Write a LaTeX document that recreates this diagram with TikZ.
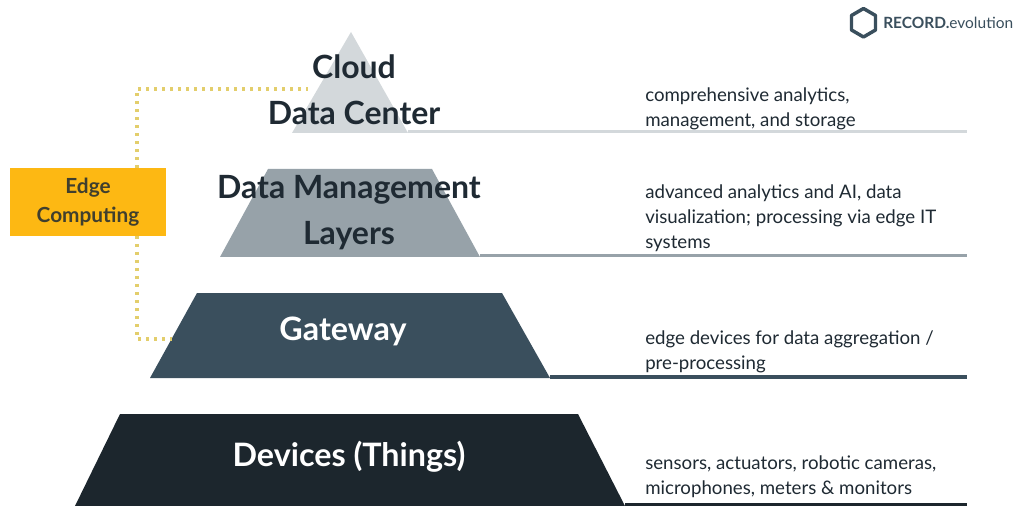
\documentclass[tikz,border=0pt]{standalone}
\usepackage{fontspec}
\setmainfont{Lato}
\definecolor{cloudc}{HTML}{D3D8DB}
\definecolor{mgmtc}{HTML}{97A2A9}
\definecolor{gatec}{HTML}{3A4F5D}
\definecolor{devc}{HTML}{1C262D}
\definecolor{edgec}{HTML}{FDB813}
\definecolor{dotc}{HTML}{E3CE6C}
\definecolor{inkc}{HTML}{1F2A33}
\tikzset{
  tier/.style={inner sep=0pt,align=center,font=\fontsize{24}{34.5}\selectfont\bfseries\color{inkc}},
  tierw/.style={tier,text=white,font=\fontsize{24.2}{30}\selectfont\bfseries},
  desc/.style={inner sep=0pt,anchor=west,align=left,text=inkc,font=\fontsize{14}{18.6}\selectfont},
  dotline/.style={dotc,line width=2.6pt,dash pattern=on 2.4pt off 3.6pt},
  rule/.style={line width=2.6pt}
}
\begin{document}
\begin{tikzpicture}[x=0.75pt,y=-0.75pt]
\useasboundingbox (0,0) rectangle (1018,506);
\fill[white] (0,0) rectangle (1018,506);
% connector anchors
\coordinate (cl0) at (408,131.5); \coordinate (cl1) at (967,131.5);
\coordinate (dm0) at (480,255.5); \coordinate (dm1) at (967,255.5);
\coordinate (gw0) at (550,377); \coordinate (gw1) at (967,377);
\coordinate (dv0) at (625,505); \coordinate (dv1) at (967,505);
\coordinate (cloudend) at (308,89); \coordinate (gateend) at (172,339);
% pyramid tiers
\fill[cloudc] (351,32) -- (408,133) -- (292,133) -- cycle;
\fill[mgmtc] (268,169) -- (432,169) -- (480,257) -- (220,257) -- cycle;
\fill[gatec] (197,293) -- (502,293) -- (550,378) -- (150,378) -- cycle;
\fill[devc] (120,414) -- (578,414) -- (625,506) -- (75,506) -- cycle;
\draw[rule,cloudc] (cl0) -- (cl1);
\draw[rule,mgmtc] (dm0) -- (dm1);
\draw[rule,gatec] (gw0) -- (gw1);
\draw[rule,devc] (dv0) -- (dv1);
% edge box
\node[fill=edgec,minimum width=117pt,minimum height=51pt,inner sep=0pt,align=center,text=inkc!85!edgec,
  font=\fontsize{15.6}{21.5}\selectfont\bfseries] (edge) at (88,202) {Edge\\[-0.2pt]\raisebox{-0.75pt}{Computing}};
\draw[dotline] (137,168) -- (137,89) -- (cloudend);
\draw[dotline] (137,236) -- (137,339) -- (gateend);
% tier labels
\node[tier] (cloud) at (354,89.5) {Cloud\\Data Center};
\node[tier] (mgmt) at (349,213) {Data Management\\Layers};
\node[tierw] (gate) at (343,331) {Gateway};
\node[tierw] (dev) at (349,457) {Devices (Things)};
% descriptions
\node[desc] (d1) at (645,109) {comprehensive analytics,\\management, and storage};
\node[desc] (d2) at (645,218) {advanced analytics and AI, data\\visualization; processing via edge IT\\systems};
\node[desc] (d3) at (645,351.5) {edge devices for data aggregation /\\pre-processing};
\node[desc] (d4) at (645,476.5) {sensors, actuators, robotic cameras,\\microphones, meters \& monitors};
% logo
\draw[gatec,line width=2.6pt,line join=round] (863.5,8.5) -- (875.5,15.5) -- (875.5,30) -- (863.5,37) -- (851.5,30) -- (851.5,15.5) -- cycle;
\node[inner sep=0pt,anchor=west,text=gatec,font=\fontsize{11.6}{14}\selectfont] (logo) at (883,23) {\textbf{RECORD.}{\fontseries{l}\selectfont evolution}};
\end{tikzpicture}
\end{document}
